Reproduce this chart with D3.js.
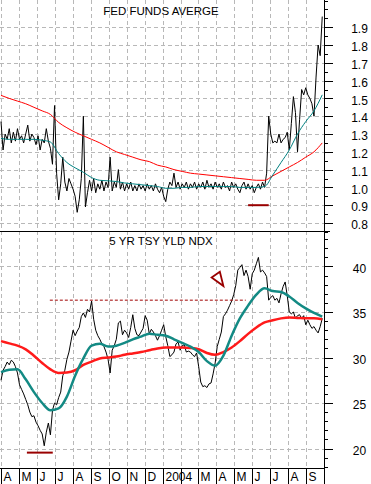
<!DOCTYPE html>
<html>
<head>
<meta charset="utf-8">
<script src="https://cdn.jsdelivr.net/npm/d3@7"></script>
<style>
  body { margin: 0; background: #fff; }
  svg { display: block; font-family: "Liberation Sans", Arial, sans-serif; }
</style>
</head>
<body>
<script>
// closes twice a week from 2003-04-01, moving averages every two weeks
const fedCloses = [1.37,1.21,1.30,1.27,1.33,1.25,1.31,1.26,1.33,1.27,
  1.29,1.25,1.30,1.35,1.26,1.30,1.28,1.24,1.29,1.21,
  1.27,1.25,1.33,1.26,1.22,1.13,1.46,1.08,0.93,1.02,
  1.17,1.03,0.98,1.05,1.02,0.99,0.95,0.86,0.93,1.05,
  1.40,0.89,0.97,1.04,0.98,1.05,0.97,1.02,0.99,1.04,
  0.98,1.03,1.00,1.17,0.98,1.03,1.00,1.10,0.99,1.03,
  0.98,1.02,0.99,1.03,0.98,1.01,0.98,1.02,0.99,1.01,
  0.98,1.02,0.99,1.01,0.98,1.02,0.99,0.97,1.00,0.95,
  0.92,0.99,1.03,1.01,1.08,1.00,1.03,0.99,1.02,1.00,
  1.03,0.99,1.02,1.00,1.03,0.99,1.02,1.00,1.03,0.99,
  1.04,1.00,1.02,0.99,1.03,1.00,1.02,0.99,1.03,1.00,
  1.01,0.98,1.03,1.00,1.02,0.99,0.97,1.01,1.03,0.99,
  1.02,0.99,1.01,0.97,1.00,1.02,0.99,1.03,1.00,1.08,
  1.40,1.30,1.25,1.26,1.25,1.30,1.25,1.27,1.28,1.31,
  1.21,1.36,1.51,1.42,1.20,1.38,1.55,1.52,1.56,1.52,
  1.50,1.47,1.40,1.62,1.80,1.74,1.96];
const fedTeal = [1.275,1.27,1.27,1.27,1.27,1.265,1.255,1.19,1.14,1.11,
  1.085,1.055,1.04,1.037,1.033,1.025,1.02,1.015,1.01,1.005,
  0.995,0.995,1.0,1.0,1.005,1.005,1.005,1.005,1.005,1.0,
  1.0,1.0,1.005,1.07,1.14,1.21,1.30,1.37,1.43,1.52];
const fedRed = [1.517,1.50,1.485,1.47,1.45,1.43,1.41,1.365,1.335,1.31,
  1.29,1.27,1.25,1.225,1.20,1.185,1.17,1.155,1.145,1.125,
  1.115,1.10,1.09,1.08,1.075,1.07,1.065,1.06,1.055,1.05,
  1.045,1.04,1.04,1.065,1.09,1.115,1.14,1.17,1.20,1.25];

const tsyCloses = [27.5,28.6,29.0,29.5,29.2,29.7,29.5,29.0,28.3,27.0,
  26.5,26.0,25.4,24.8,24.0,23.5,23.6,22.9,22.5,22.0,
  21.6,20.3,21.8,22.8,21.5,24.2,25.0,24.8,25.6,26.2,
  28.0,28.6,29.8,30.6,31.8,33.0,32.4,32.9,33.3,34.5,
  34.9,34.4,35.3,35.0,36.2,34.2,33.0,32.4,32.0,31.5,
  31.2,30.6,29.8,28.3,30.8,31.3,32.0,33.8,34.0,32.5,
  33.0,32.7,32.2,33.3,34.7,33.2,32.5,32.4,32.8,33.2,
  34.6,34.1,32.6,33.1,32.8,32.4,31.9,32.4,33.0,33.6,
  32.3,31.3,30.1,30.3,30.6,31.5,31.7,30.8,31.3,31.4,
  30.6,30.7,30.6,30.3,30.1,30.5,29.0,27.3,26.8,26.9,
  26.7,27.1,27.2,28.2,29.4,31.2,32.0,32.8,34.5,34.8,
  35.2,35.7,36.2,36.9,37.9,39.6,39.9,40.2,39.0,39.6,
  38.9,37.5,39.2,39.6,40.3,41.0,39.4,39.6,39.3,38.9,
  36.3,36.6,36.8,36.3,36.5,36.0,37.0,37.8,38.3,36.8,
  35.0,34.8,35.0,34.3,34.6,34.7,34.3,34.6,33.6,34.1,
  33.6,33.2,33.4,33.0,32.7,33.4,34.3];
const tsyTeal = [28.4,28.65,28.7,27.6,26.2,25.0,24.2,24.4,25.7,28.0,
  29.9,31.3,31.5,31.2,31.3,31.6,32.0,32.3,32.6,32.5,
  32.4,32.0,31.6,31.2,30.6,29.6,29.1,30.2,32.4,34.3,
  35.7,36.9,37.6,37.3,37.2,36.7,36.0,35.4,34.9,34.5];
const tsyRed = [31.8,31.55,31.3,30.9,30.2,29.4,28.7,28.3,28.35,28.6,
  29.2,29.55,29.9,30.0,30.1,30.3,30.45,30.6,30.8,31.0,
  31.1,31.1,31.1,31.05,30.9,30.5,30.3,30.6,31.1,31.8,
  32.6,33.3,33.85,34.1,34.3,34.4,34.35,34.3,34.3,34.2];

const monthLabels = ["A","M","J","J","A","S","O","N","D","2004","","M","A","M","J","J","A","S"];
const fedTicks = [0.8,0.9,1.0,1.1,1.2,1.3,1.4,1.5,1.6,1.7,1.8,1.9];
const tsyTicks = [20,25,30,35,40];

// hand drawn marks on the chart
const fedBar = [["2004-05-25", 0.90], ["2004-06-29", 0.90]];
const tsyBar = [["2003-05-15", 19.55], ["2003-06-28", 19.55]];
const tsyResist = [["2003-06-23", 36.3], ["2004-05-21", 36.3]];
const tsyArrow = [["2004-03-24", 38.8], ["2004-04-07", 39.43], ["2004-04-13", 37.86]];

const width = 371, height = 484;
const right = 324, split = 231, bottom = 468;
const start = new Date(2003, 3, 1), end = new Date(2004, 9, 1);

const halfWeek = (v, i) => d3.timeHour.offset(start, 84 * i);
const biweekly = (v, i) => d3.timeDay.offset(start, 14 * i);
const parse = d3.timeParse("%Y-%m-%d");

const x = d3.scaleTime().domain([start, end]).range([1, right]);
const yFed = d3.scaleLinear().domain([0.755, 2.053]).range([split, 0]);
const yTsy = d3.scaleLinear().domain([17.86, 43.9]).range([bottom, split]);

const svg = d3.select("body").append("svg")
    .attr("width", width)
    .attr("height", height);

const months = d3.timeMonth.range(start, end);
const grid = svg.append("g")
    .attr("stroke", "#b8b8b8")
    .attr("stroke-dasharray", "4,3")
    .attr("shape-rendering", "crispEdges");

grid.selectAll(".v").data(months).join("line")
    .attr("x1", d => Math.round(x(d)) + 0.5).attr("x2", d => Math.round(x(d)) + 0.5)
    .attr("y1", 0).attr("y2", bottom);
grid.selectAll(".hf").data(fedTicks).join("line")
    .attr("x1", 0).attr("x2", right)
    .attr("y1", d => Math.round(yFed(d)) + 0.5).attr("y2", d => Math.round(yFed(d)) + 0.5);
grid.selectAll(".ht").data(tsyTicks).join("line")
    .attr("x1", 0).attr("x2", right)
    .attr("y1", d => Math.round(yTsy(d)) + 0.5).attr("y2", d => Math.round(yTsy(d)) + 0.5);

function drawSeries(values, dateOf, y, color, w, curve) {
  const line = d3.line()
      .x((d, i) => x(dateOf(d, i)))
      .y(d => y(d))
      .curve(curve);
  svg.append("path")
      .datum(values)
      .attr("fill", "none")
      .attr("stroke", color)
      .attr("stroke-width", w)
      .attr("stroke-linejoin", "round")
      .attr("d", line);
}

// upper panel
drawSeries(fedCloses, halfWeek, yFed, "#000", 1, d3.curveLinear);
drawSeries(fedRed, biweekly, yFed, "#ff0000", 1, d3.curveMonotoneX);
drawSeries(fedTeal, biweekly, yFed, "#008080", 1, d3.curveMonotoneX);

// lower panel
drawSeries(tsyCloses, halfWeek, yTsy, "#000", 1, d3.curveLinear);
drawSeries(tsyRed, biweekly, yTsy, "#ff1a1a", 2.5, d3.curveMonotoneX);
drawSeries(tsyTeal, biweekly, yTsy, "#138a84", 2.5, d3.curveMonotoneX);

// annotations
const markLine = (pts, y) => d3.line().x(d => x(parse(d[0]))).y(d => y(d[1]))(pts);
svg.append("path").attr("d", markLine(fedBar, yFed))
    .attr("stroke", "#990000").attr("stroke-width", 2).attr("fill", "none");
svg.append("path").attr("d", markLine(tsyBar, yTsy))
    .attr("stroke", "#990000").attr("stroke-width", 2).attr("fill", "none");
svg.append("path").attr("d", markLine(tsyResist, yTsy))
    .attr("stroke", "#a00000").attr("stroke-width", 1)
    .attr("stroke-dasharray", "3,2").attr("fill", "none");
svg.append("path").attr("d", markLine(tsyArrow, yTsy) + "Z")
    .attr("stroke", "#990000").attr("stroke-width", 1.8).attr("fill", "#fff")
    .attr("stroke-linejoin", "miter");

// frame
const frame = svg.append("g").attr("stroke", "#000").attr("shape-rendering", "crispEdges");
frame.append("line").attr("x1", right + 0.5).attr("x2", right + 0.5).attr("y1", 0).attr("y2", height);
frame.append("line").attr("x1", 0).attr("x2", right + 6).attr("y1", split + 0.5).attr("y2", split + 0.5);
frame.append("line").attr("x1", 0).attr("x2", right).attr("y1", bottom + 0.5).attr("y2", bottom + 0.5);

// right axes
function rightAxis(y, major, minor) {
  const g = svg.append("g").attr("transform", `translate(${right + 0.5},0)`);
  g.call(d3.axisRight(y).tickValues(minor).tickSize(3).tickFormat(""))
      .call(a => a.select(".domain").remove());
  g.append("g")
      .call(d3.axisRight(y).tickValues(major).tickSize(8).tickPadding(27)
        .tickFormat(d => y === yFed ? d3.format(".1f")(d) : d))
      .call(a => a.select(".domain").remove())
      .call(a => a.selectAll("text")
        .attr("text-anchor", "middle")
        .attr("dy", "0.48em")
        .attr("font-size", 12)
        .attr("font-family", "Liberation Sans, Arial, sans-serif")
        .attr("fill", "#000"));
  g.selectAll("line").attr("shape-rendering", "crispEdges");
}
rightAxis(yFed, fedTicks, d3.range(0.75, 2.06, 0.05).map(v => +v.toFixed(2)));
rightAxis(yTsy, tsyTicks, d3.range(18, 44, 1));

// titles
svg.append("text").attr("x", 161).attr("y", 15).attr("text-anchor", "middle")
    .attr("font-size", 11.5).text("FED FUNDS AVERGE");
svg.append("text").attr("x", 161).attr("y", 245).attr("text-anchor", "middle")
    .attr("font-size", 11.5).text("5 YR TSY YLD NDX");

// month row
const row = svg.append("g");
row.selectAll("line").data(months).join("line")
    .attr("x1", d => Math.round(x(d)) + 0.5).attr("x2", d => Math.round(x(d)) + 0.5)
    .attr("y1", bottom).attr("y2", height)
    .attr("stroke", "#000").attr("shape-rendering", "crispEdges");
row.selectAll("text").data(months).join("text")
    .attr("x", d => Math.round(x(d)) + 2.5)
    .attr("y", 481)
    .attr("font-size", 12)
    .text((d, i) => monthLabels[i]);
</script>
</body>
</html>
